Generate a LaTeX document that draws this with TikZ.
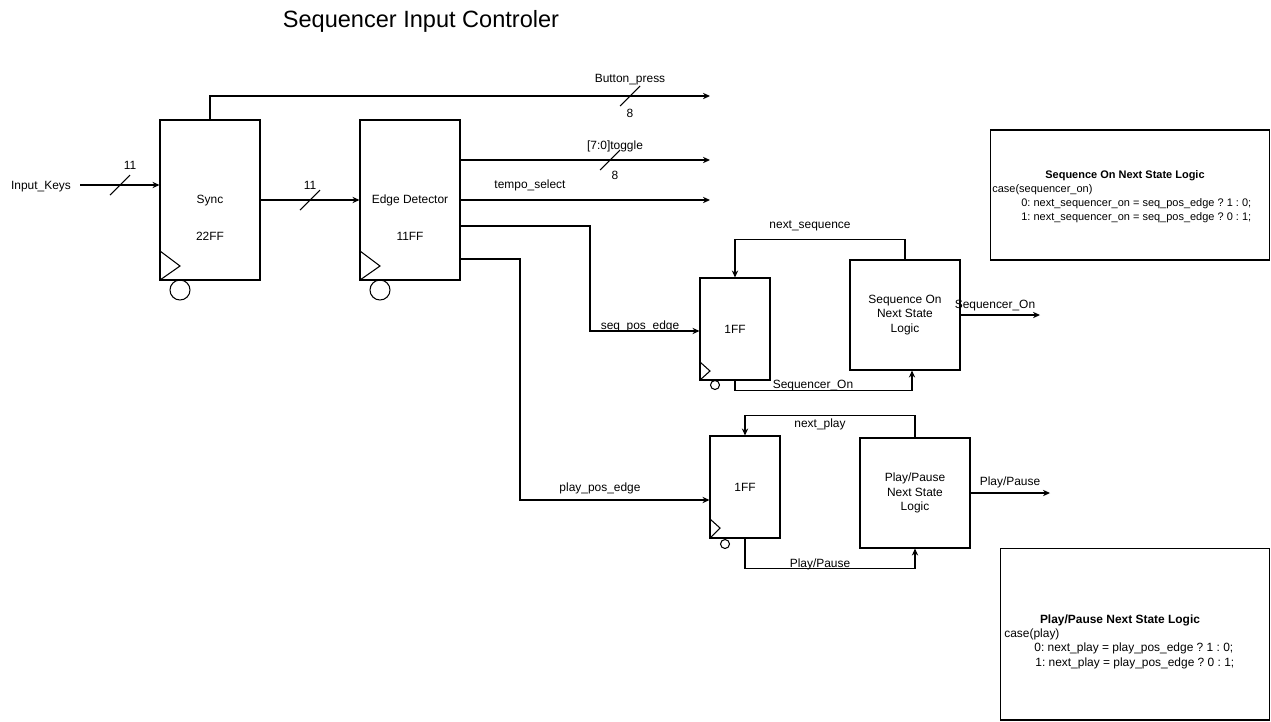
\documentclass[tikz,border=0pt]{standalone}
\usepackage{fontspec}
\setmainfont{Liberation Sans}
\usetikzlibrary{arrows.meta}
\frenchspacing

\begin{document}
\begin{tikzpicture}[x=0.02cm, y=-0.02cm,
    blk/.style={draw, line width=0.6pt, minimum width=2cm, minimum height=3.2cm, inner sep=0},
    ff/.style={draw, line width=0.6pt, minimum width=1.4cm, minimum height=2.04cm, inner sep=0, font=\fontsize{6.8}{8.2}\selectfont},
    logic/.style={draw, line width=0.6pt, minimum width=2.2cm, minimum height=2.2cm, align=center, inner sep=0, font=\fontsize{6.8}{8.2}\selectfont},
    codebox/.style={draw, line width=0.6pt, inner sep=0},
    lbl/.style={font=\fontsize{6.8}{8.2}\selectfont, inner sep=0, yshift=-0.9pt},
    code/.style={font=\fontsize{6.25}{7.5}\selectfont, inner sep=0, anchor=west, yshift=-1.1pt},
    bigcode/.style={font=\fontsize{6.8}{8.2}\selectfont, inner sep=0, anchor=west, yshift=-1.1pt},
    wire/.style={line width=0.6pt},
    sig/.style={wire, -{Stealth[length=4pt, width=3.6pt]}},
  ]
    \useasboundingbox (0,0) rectangle (1271,721);

    \node[font=\fontsize{13.4}{16}\selectfont, inner sep=0, yshift=-1.1pt] (title) at (421,19) {Sequencer Input Controler};

    % Sync and edge detector
    \node[blk] (sync) at (210,200) {};
    \node[lbl] (syncname) at (210,199) {Sync};
    \node[lbl] (syncff) at (210,235) {22FF};
    \draw[wire] (160,251) -- (180,266) -- (160,280);
    \draw[wire] (180,290) circle (0.2cm);

    \node[blk] (edge) at (410,200) {};
    \node[lbl] (edgename) at (410,199) {Edge Detector};
    \node[lbl] (edgeff) at (410,235) {11FF};
    \draw[wire] (360,251) -- (380,266) -- (360,280);
    \draw[wire] (380,290) circle (0.2cm);

    % Input keys
    \node[lbl] (inkeys) at (41,185) {Input\_Keys};
    \coordinate (inkeysstart) at (80,185);
    \draw[sig] (inkeysstart) -- (sync.west |- inkeysstart);
    \draw[wire] (110,195) -- (130,175);
    \node[lbl] (inkeysw) at (130,164) {11};

    \draw[sig] (sync.east) -- (edge.west);
    \draw[wire] (300,210) -- (320,190);
    \node[lbl] (syncw) at (310,184) {11};

    % Outputs of the edge detector
    \coordinate (bpend) at (710,96);
    \draw[sig] (sync.north) |- (bpend);
    \draw[wire] (620,106) -- (640,86);
    \node[lbl] (bplbl) at (630,78) {Button\_press};
    \node[lbl] (bpw) at (630,112) {8};

    \coordinate (tgend) at (710,160);
    \draw[sig] (edge.east |- tgend) -- (tgend);
    \draw[wire] (600,170) -- (620,150);
    \node[lbl] (tglbl) at (615,145) {[7:0]toggle};
    \node[lbl] (tgw) at (615,174) {8};

    \coordinate (tsend) at (710,200);
    \draw[sig] (edge.east) -- (tsend);
    \node[lbl] (tslbl) at (530,184) {tempo\_select};

    % Sequencer on loop
    \node[ff] (ffseq) at (735,329) {1FF};
    \draw[wire] (700,362) -- (710,371) -- (700,380);
    \draw[wire] (715,385) circle (0.09cm);
    \node[logic] (seqlogic) at (905,315) {Sequence On\\Next State\\Logic};

    \draw[sig] (edge.east |- 0,226) -| (590,331) -- (ffseq.west |- 590,331);
    \node[lbl] (seqedge) at (640,325) {seq\_pos\_edge};
    \draw[sig] (seqlogic.north) -- ++(0,-20) -| (ffseq.north);
    \node[lbl] (nextseq) at (810,224) {next\_sequence};
    \draw[sig] (ffseq.south) -- ++(0,10) -| ([xshift=0.14cm]seqlogic.south);
    \node[lbl] (seqfb) at (813,384) {Sequencer\_On};
    \coordinate (seqout) at (1040,315);
    \draw[sig] (seqlogic.east) -- (seqout);
    \node[lbl] (seqoutlbl) at (995,304) {Sequencer\_On};

    % Play/pause loop
    \node[ff] (ffplay) at (745,487) {1FF};
    \draw[wire] (710,519) -- (720,528) -- (710,538);
    \draw[wire] (725,544) circle (0.09cm);
    \node[logic] (playlogic) at (915,493) {Play/Pause\\Next State\\Logic};

    \draw[sig] (edge.east |- 0,259) -| (520,500) -- (ffplay.west |- 520,500);
    \node[lbl] (playedge) at (600,487) {play\_pos\_edge};
    \draw[sig] (playlogic.north) -- ++(0,-22) -| (ffplay.north);
    \node[lbl] (nextplay) at (820,423) {next\_play};
    \draw[sig] (ffplay.south) -- ++(0,30) -| (playlogic.south);
    \node[lbl] (playfb) at (820,563) {Play/Pause};
    \coordinate (playout) at (1050,493);
    \draw[sig] (playlogic.east) -- (playout);
    \node[lbl] (playoutlbl) at (1010,481) {Play/Pause};

    % Next state logic notes
    \node[codebox, minimum width=5.59cm, minimum height=2.6cm] (seqcode) at (1129.75,195) {};
    \node[font=\fontsize{6.25}{7.5}\selectfont\bfseries, inner sep=0, yshift=-1.1pt] (seqtitle) at (1125,174) {Sequence On Next State Logic};
    \node[code] (seqcase) at (992,188) {case(sequencer\_on)};
    \node[code] (seqzero) at (1021,202) {0: next\_sequencer\_on = seq\_pos\_edge ? 1 : 0;};
    \node[code] (seqone) at (1021,216) {1: next\_sequencer\_on = seq\_pos\_edge ? 0 : 1;};

    \node[codebox, minimum width=5.39cm, minimum height=3.44cm] (playcode) at (1134.75,634) {};
    \node[font=\fontsize{6.8}{8.2}\selectfont\bfseries, inner sep=0, yshift=-1.1pt] (playtitle) at (1120,618) {Play/Pause Next State Logic};
    \node[bigcode] (playcase) at (1004,632) {case(play)};
    \node[bigcode] (playzero) at (1034,646.5) {0: next\_play = play\_pos\_edge ? 1 : 0;};
    \node[bigcode] (playone) at (1035,661) {1: next\_play = play\_pos\_edge ? 0 : 1;};
\end{tikzpicture}
\end{document}
